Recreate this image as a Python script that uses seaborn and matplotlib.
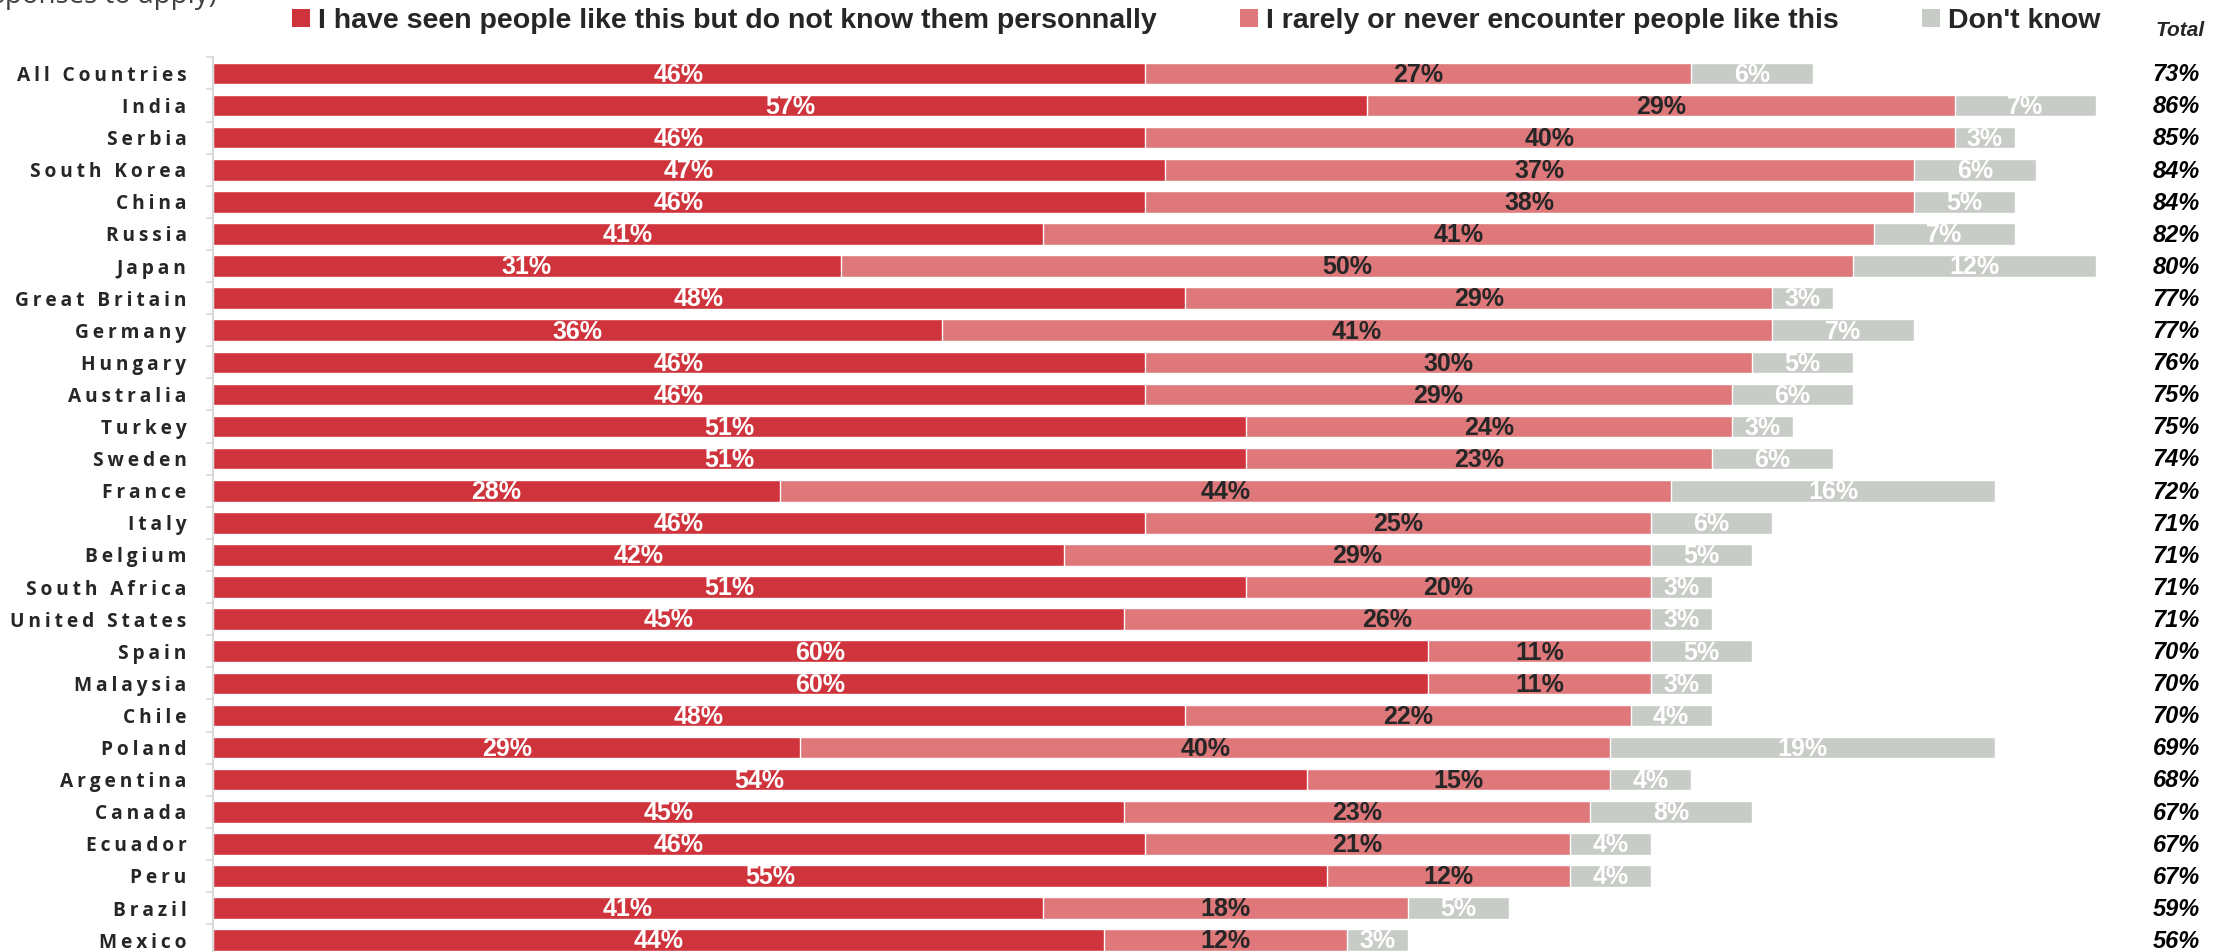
"""
Stacked bar chart: familiarity with people in a group, by country
"""

import matplotlib
matplotlib.use('Agg')
import matplotlib.pyplot as plt
import matplotlib.transforms as mtransforms
from matplotlib.patches import Patch
import seaborn as sns
import pandas as pd
import numpy as np

# ---- data ----
countries = ['All Countries', 'India', 'Serbia', 'South Korea', 'China', 'Russia', 'Japan',
             'Great Britain', 'Germany', 'Hungary', 'Australia', 'Turkey', 'Sweden', 'France',
             'Italy', 'Belgium', 'South Africa', 'United States', 'Spain', 'Malaysia', 'Chile',
             'Poland', 'Argentina', 'Canada', 'Ecuador', 'Peru', 'Brazil', 'Mexico']
seen_not_known = [46, 57, 46, 47, 46, 41, 31, 48, 36, 46, 46, 51, 51, 28, 46, 42, 51, 45,
                  60, 60, 48, 29, 54, 45, 46, 55, 41, 44]
rarely_never = [27, 29, 40, 37, 38, 41, 50, 29, 41, 30, 29, 24, 23, 44, 25, 29, 20, 26,
                11, 11, 22, 40, 15, 23, 21, 12, 18, 12]
dont_know = [6, 7, 3, 6, 5, 7, 12, 3, 7, 5, 6, 3, 6, 16, 6, 5, 3, 3, 5, 3, 4, 19, 4, 8, 4, 4, 5, 3]
totals = [73, 86, 85, 84, 84, 82, 80, 77, 77, 76, 75, 75, 74, 72, 71, 71, 71, 71,
          70, 70, 70, 69, 68, 67, 67, 67, 59, 56]
series_names = ['I have seen people like this but do not know them personnally',
                'I rarely or never encounter people like this',
                "Don't know"]

RED = '#CF343D'
PINK = '#DE787A'
GREY = '#C8CCC6'
DARK = '#262626'
BOLD_FONT = ['Liberation Sans', 'DejaVu Sans']

df = pd.DataFrame({'country': countries, 'seen': seen_not_known,
                   'rarely': rarely_never, 'dk': dont_know})
df['c1'] = df['seen']
df['c2'] = df['seen'] + df['rarely']
df['c3'] = df['c2'] + df['dk']

sns.set_theme(style='white')
plt.rcParams['font.family'] = ['Open Sans', 'DejaVu Sans']

W, H = 2222, 952
fig = plt.figure(figsize=(W / 100, H / 100), dpi=100)

# axes placement: bars start at x=213px, rows 32.1px apart, first row boundary at 57px
n = len(countries)
row_px = 32.1
top_px = 57.4
ax_h = n * row_px
ax = fig.add_axes([213 / W, 1 - (top_px + ax_h) / H, (W - 213) / W, ax_h / H])

# stacked bars drawn back to front through seaborn
bar_kw = dict(orient='h', width=0.67, edgecolor='white', linewidth=1.0, ax=ax)
sns.barplot(data=df, x='c3', y='country', color=GREY, saturation=1, **bar_kw)
sns.barplot(data=df, x='c2', y='country', color=PINK, saturation=1, **bar_kw)
sns.barplot(data=df, x='c1', y='country', color=RED, saturation=1, **bar_kw)

ax.set_xlim(0, (W - 213) / 20.25)
ax.set_ylim(n - 0.5, -0.5)
ax.set_xlabel('')
ax.set_ylabel('')
ax.xaxis.set_visible(False)

# value labels centred in each segment
label_font = dict(family=BOLD_FONT, fontsize=18, fontweight='bold', ha='center', va='center')
for i, row in df.iterrows():
    ax.text(row['seen'] / 2, i + 0.04, f"{row['seen']}%", color='white', **label_font)
    ax.text(row['c1'] + row['rarely'] / 2, i + 0.04, f"{row['rarely']}%", color=DARK, **label_font)
    ax.text(row['c2'] + row['dk'] / 2, i + 0.04, f"{row['dk']}%", color='white', **label_font)

# country labels with wide letter spacing
ax.set_yticks(np.arange(n))
ax.set_yticklabels(['\u2009'.join(c) for c in countries], fontsize=13.8, fontweight='bold',
                   color=DARK)
ax.set_yticks(np.arange(n + 1) - 0.5, minor=True)
ax.tick_params(axis='y', which='major', length=0, pad=19)
ax.tick_params(axis='y', which='minor', length=5, width=1.2, color='#D9D9D9', left=True)
for side in ['top', 'right', 'bottom']:
    ax.spines[side].set_visible(False)
ax.spines['left'].set_color('#D9D9D9')
ax.spines['left'].set_linewidth(1.5)

# totals column
trans = mtransforms.blended_transform_factory(fig.transFigure, ax.transData)
for i, t in enumerate(totals):
    ax.text(2200 / W, i + 0.04, f'{t}%', transform=trans, ha='right', va='center',
            family=BOLD_FONT, fontsize=17, fontweight='bold', fontstyle='italic', color='black')
fig.text(2180 / W, 1 - 30 / H, 'Total', ha='center', va='center', family=BOLD_FONT,
         fontsize=15, fontweight='bold', fontstyle='italic', color=DARK)

# legend across the top
handles = [Patch(facecolor=c, edgecolor='none') for c in [RED, PINK, GREY]]
fig.legend(handles, series_names, ncol=3, loc='center left',
           bbox_to_anchor=(292 / W, 1 - 21 / H), frameon=False,
           prop=dict(family=BOLD_FONT, size=20.5, weight='bold'),
           handlelength=0.63, handleheight=0.63, handletextpad=0.3,
           columnspacing=2.9, borderpad=0, borderaxespad=0, labelcolor=DARK)

# question text clipped at the top edge of the image, as in the source slide
fig.text(217 / W, 1 - 3 / H, '(multiple responses to apply)', ha='right', va='baseline',
         fontsize=20, color='#404040')

fig.savefig('out.png', dpi=100)
